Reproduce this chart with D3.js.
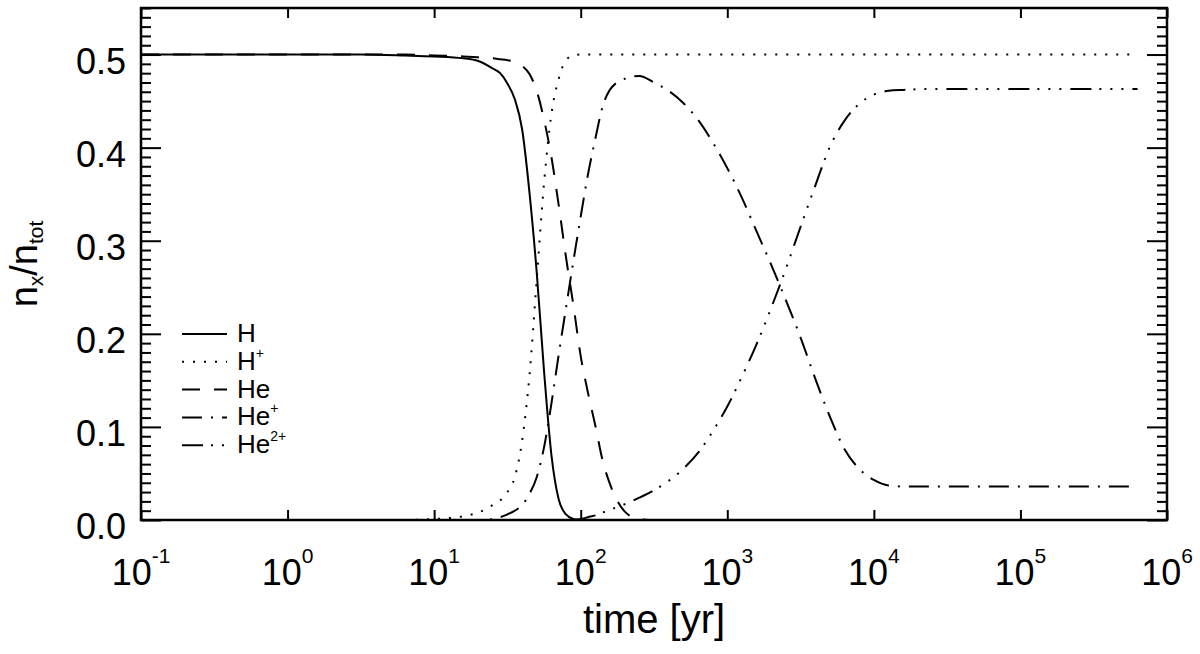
<!DOCTYPE html>
<html>
<head>
<meta charset="utf-8">
<script src="https://cdn.jsdelivr.net/npm/d3@7"></script>
<style>
  body { margin: 0; background: #fff; }
  text { font-family: "Liberation Sans", Arial, Helvetica, sans-serif; fill: #000; }
</style>
</head>
<body>
<svg id="chart" width="1200" height="654"></svg>
<script>
// time grid [yr] and the abundance of each species
var timeYr = [0.1, 1, 3.16, 6.31, 10, 15.8, 20, 25.1, 28.2, 31.6, 35.5, 39.8, 44.7, 50.1, 56.2, 63.1,
              70.8, 79.4, 89.1, 100, 112, 126, 141, 158, 200, 251, 316, 398, 501, 631, 794, 1000,
              1259, 1585, 1995, 2512, 3162, 3981, 5012, 6310, 7943, 10000, 12589, 15849, 25119, 1e5, 6.3e5];

var fracH = [0.500, 0.500, 0.500, 0.499, 0.498, 0.496, 0.493, 0.485, 0.480, 0.469, 0.452, 0.420, 0.352, 0.266, 0.160, 0.070,
             0.022, 0.006, 0.001, 0, 0, 0, 0, 0, 0, 0, 0, 0, 0, 0, 0, 0,
             0, 0, 0, 0, 0, 0, 0, 0, 0, 0, 0, 0, 0, 0, 0];
var fracHp = [0, 0, 0, 0, 0.001, 0.004, 0.008, 0.016, 0.021, 0.030, 0.046, 0.085, 0.155, 0.258, 0.362, 0.436,
              0.474, 0.494, 0.499, 0.5, 0.5, 0.5, 0.5, 0.5, 0.5, 0.5, 0.5, 0.5, 0.5, 0.5, 0.5, 0.5,
              0.5, 0.5, 0.5, 0.5, 0.5, 0.5, 0.5, 0.5, 0.5, 0.5, 0.5, 0.5, 0.5, 0.5, 0.5];
var fracHe = [0.5, 0.5, 0.5, 0.5, 0.499, 0.498, 0.497, 0.496, 0.495, 0.494, 0.492, 0.488, 0.479, 0.461, 0.430, 0.390,
              0.338, 0.282, 0.231, 0.176, 0.137, 0.101, 0.064, 0.039, 0.009, 0.001, 0, 0, 0, 0, 0, 0,
              0, 0, 0, 0, 0, 0, 0, 0, 0, 0, 0, 0, 0, 0, 0];
var fracHep = [0, 0, 0, 0, 0, 0, 0, 0.001, 0.003, 0.006, 0.010, 0.016, 0.028, 0.046, 0.078, 0.125,
               0.178, 0.228, 0.278, 0.326, 0.371, 0.410, 0.444, 0.462, 0.474, 0.477, 0.470, 0.461, 0.448, 0.430, 0.406, 0.378,
               0.346, 0.310, 0.274, 0.236, 0.196, 0.152, 0.111, 0.076, 0.055, 0.043, 0.037, 0.036, 0.036, 0.036, 0.036];
var fracHepp = [0, 0, 0, 0, 0, 0, 0, 0, 0, 0, 0, 0, 0, 0, 0, 0,
                0, 0, 0, 0.001, 0.003, 0.005, 0.008, 0.011, 0.017, 0.024, 0.032, 0.042, 0.055, 0.072, 0.095, 0.122,
                0.154, 0.189, 0.228, 0.270, 0.315, 0.359, 0.401, 0.429, 0.447, 0.457, 0.461, 0.462, 0.463, 0.463, 0.463];

var seriesBase = ["H", "H", "He", "He", "He"];
var seriesSup  = ["", "+", "", "+", "2+"];
var seriesVals = [fracH, fracHp, fracHe, fracHep, fracHepp];
// IDL style line styles: solid, dotted, dashed, dash-dot, dash-dot-dot-dot
var seriesDash = [null, "2,9", "18,14", "20,9,2,9", "21,8,2,9,2,9,2,9"];

var xExponents = [-1, 0, 1, 2, 3, 4, 5, 6];
var yMajor = [0, 0.1, 0.2, 0.3, 0.4, 0.5];

(function(){
var svg = d3.select("#chart");
svg.append("rect").attr("width", 1200).attr("height", 654).attr("fill", "#fff");

var pL = 141, pR = 1167, pT = 8, pB = 520;

var x = d3.scaleLog().domain([0.1, 1e6]).range([pL, pR]);
var y = d3.scaleLinear().domain([0, 0.55]).range([pB, pT]);

var yMinor = d3.range(0, 56).map(function(i){ return i / 100; })
  .filter(function(v){ return Math.abs(v * 10 - Math.round(v * 10)) > 1e-6; });
var xTicks = xExponents.map(function(e){ return Math.pow(10, e); });

// curves
var line = d3.line()
  .x(function(d){ return x(d.t); })
  .y(function(d){ return y(d.v); })
  .curve(d3.curveMonotoneX);

seriesVals.forEach(function(vals, k){
  var pts = timeYr.map(function(t, i){ return {t: t, v: vals[i]}; });
  svg.append("path")
    .datum(pts)
    .attr("d", line)
    .attr("fill", "none")
    .attr("stroke", "#000")
    .attr("stroke-width", 2)
    .attr("stroke-dasharray", seriesDash[k]);
});

// ticks (all pointing inward)
function styleAxis(g){
  g.select(".domain").remove();
  g.selectAll(".tick line").attr("stroke", "#000").attr("stroke-width", 2);
  g.selectAll(".tick text").remove();
}
svg.append("g").attr("transform", "translate(" + pL + ",0)")
  .call(d3.axisLeft(y).tickValues(yMajor).tickSize(-20).tickFormat("")).call(styleAxis);
svg.append("g").attr("transform", "translate(" + pL + ",0)")
  .call(d3.axisLeft(y).tickValues(yMinor).tickSize(-10).tickFormat("")).call(styleAxis);
svg.append("g").attr("transform", "translate(" + pR + ",0)")
  .call(d3.axisRight(y).tickValues(yMajor).tickSize(-20).tickFormat("")).call(styleAxis);
svg.append("g").attr("transform", "translate(" + pR + ",0)")
  .call(d3.axisRight(y).tickValues(yMinor).tickSize(-10).tickFormat("")).call(styleAxis);
svg.append("g").attr("transform", "translate(0," + pB + ")")
  .call(d3.axisBottom(x).tickValues(xTicks).tickSize(-10).tickFormat("")).call(styleAxis);
svg.append("g").attr("transform", "translate(0," + pT + ")")
  .call(d3.axisTop(x).tickValues(xTicks).tickSize(-10).tickFormat("")).call(styleAxis);

// frame
svg.append("rect")
  .attr("x", pL).attr("y", pT)
  .attr("width", pR - pL).attr("height", pB - pT)
  .attr("fill", "none").attr("stroke", "#000").attr("stroke-width", 2.5);

// y tick labels
svg.selectAll("text.ylab").data(yMajor).enter().append("text")
  .attr("class", "ylab")
  .attr("x", 126)
  .attr("y", function(d){ return y(d) + 19; })
  .attr("text-anchor", "end")
  .attr("font-size", 36)
  .text(function(d){ return d3.format(".1f")(d); });

// x tick labels 10^n
var xl = svg.selectAll("text.xlab").data(xExponents).enter().append("text")
  .attr("class", "xlab")
  .attr("x", function(d){ return x(Math.pow(10, d)); })
  .attr("y", 585)
  .attr("text-anchor", "middle")
  .attr("font-size", 36);
xl.append("tspan").text("10");
xl.append("tspan").attr("font-size", 21).attr("dy", -22).text(function(d){ return d; });

// axis titles
svg.append("text")
  .attr("x", (pL + pR) / 2).attr("y", 633)
  .attr("text-anchor", "middle")
  .attr("font-size", 40)
  .text("time [yr]");

var yt = svg.append("text")
  .attr("transform", "translate(37," + ((pT + pB) / 2) + ") rotate(-90)")
  .attr("text-anchor", "middle")
  .attr("font-size", 38);
yt.append("tspan").text("n");
yt.append("tspan").attr("font-size", 21).attr("dy", 6).text("x");
yt.append("tspan").attr("dy", -6).text("/n");
yt.append("tspan").attr("font-size", 21).attr("dy", 6).text("tot");

// legend
var legY0 = 334, legStep = 27.8;
seriesBase.forEach(function(b, k){
  var ly = legY0 + k * legStep;
  svg.append("line")
    .attr("x1", 182).attr("x2", 227).attr("y1", ly).attr("y2", ly)
    .attr("stroke", "#000").attr("stroke-width", 2)
    .attr("stroke-dasharray", seriesDash[k]);
  var t = svg.append("text").attr("x", 237).attr("y", ly + 8).attr("font-size", 26);
  t.append("tspan").text(b);
  if (seriesSup[k]) t.append("tspan").attr("font-size", 14).attr("dy", -12).text(seriesSup[k]);
});
})();
</script>
</body>
</html>
